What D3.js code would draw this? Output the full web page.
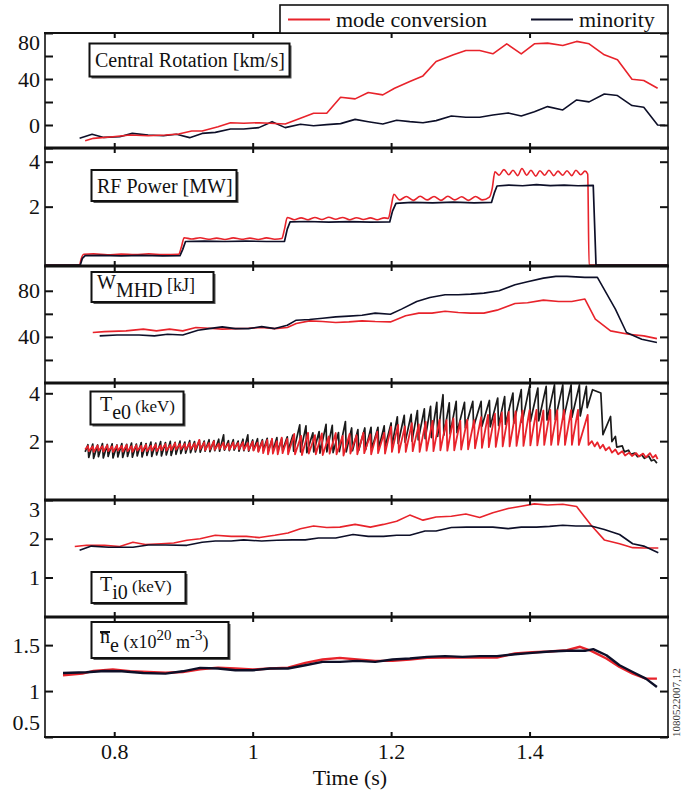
<!DOCTYPE html>
<html>
<head>
<meta charset="utf-8">
<script src="https://cdn.jsdelivr.net/npm/d3@7"></script>
<style>
  body { margin: 0; background: #fff; }
  svg { display: block; font-family: "Liberation Serif", "Times New Roman", serif; }
</style>
</head>
<body>
<svg id="chart" width="682" height="791"></svg>
<script>
// ---- data: [time (s), value] ----
const rotationMC = [[0.758,-13.7],[0.770,-11.6],[0.798,-10.2],[0.823,-8.7],[0.849,-9.3],[0.874,-8.7],[0.893,-7.8],[0.912,-5.2],[0.927,-5.2],[0.950,-1.5],[0.968,2.0],[0.987,1.5],[1.009,2.0],[1.025,1.5],[1.047,0.9],[1.069,5.8],[1.088,10.2],[1.107,10.2],[1.127,24.1],[1.148,22.7],[1.167,28.2],[1.188,26.2],[1.205,32.0],[1.227,37.8],[1.246,42.7],[1.265,55.2],[1.290,61.0],[1.308,64.8],[1.328,64.8],[1.347,61.9],[1.367,70.6],[1.388,61.9],[1.407,70.6],[1.426,71.2],[1.448,69.2],[1.468,72.7],[1.486,70.6],[1.508,61.0],[1.527,56.7],[1.548,39.8],[1.565,38.7],[1.585,32.0]];
const rotationMin = [[0.750,-11.6],[0.768,-8.1],[0.785,-10.8],[0.808,-10.2],[0.826,-7.3],[0.849,-8.7],[0.871,-9.3],[0.890,-8.1],[0.909,-11.0],[0.927,-7.3],[0.946,-6.4],[0.968,-3.5],[0.987,-3.5],[1.009,-2.3],[1.028,2.9],[1.047,-2.3],[1.069,0.6],[1.088,-0.6],[1.107,0.3],[1.127,1.2],[1.148,4.9],[1.167,2.9],[1.188,0.9],[1.208,4.1],[1.227,2.9],[1.246,2.0],[1.265,3.8],[1.287,7.8],[1.308,6.7],[1.328,6.7],[1.347,8.7],[1.369,10.5],[1.388,7.8],[1.407,11.6],[1.426,16.0],[1.448,13.1],[1.468,21.8],[1.486,20.1],[1.508,27.0],[1.527,25.6],[1.548,16.9],[1.565,15.4],[1.585,0.0],[1.596,-0.3]];

const powerMC = [[0.700,-0.6],[0.750,-0.6],[0.752,-0.35],[0.756,-0.12],[0.770,-0.10],[0.790,-0.14],[0.810,-0.11],[0.830,-0.13],[0.850,-0.10],[0.870,-0.13],[0.893,-0.12],[0.897,0.2],[0.901,0.62],[0.912,0.56],[0.924,0.62],[0.936,0.55],[0.948,0.60],[0.960,0.54],[0.972,0.61],[0.984,0.55],[0.996,0.60],[1.008,0.54],[1.020,0.61],[1.032,0.55],[1.042,0.58],[1.046,1.0],[1.050,1.52],[1.060,1.42],[1.070,1.50],[1.080,1.42],[1.090,1.52],[1.100,1.43],[1.110,1.53],[1.120,1.44],[1.130,1.52],[1.140,1.42],[1.150,1.51],[1.160,1.43],[1.170,1.50],[1.180,1.42],[1.190,1.50],[1.196,1.48],[1.200,2.0],[1.204,2.55],[1.212,2.30],[1.222,2.45],[1.232,2.28],[1.242,2.46],[1.252,2.30],[1.262,2.45],[1.272,2.28],[1.282,2.46],[1.292,2.30],[1.302,2.44],[1.312,2.28],[1.322,2.45],[1.332,2.30],[1.342,2.42],[1.346,2.8],[1.350,3.55],[1.356,3.40],[1.363,3.65],[1.370,3.42],[1.376,3.62],[1.383,3.38],[1.389,3.70],[1.396,3.40],[1.402,3.62],[1.409,3.36],[1.415,3.60],[1.422,3.40],[1.428,3.62],[1.435,3.38],[1.441,3.58],[1.448,3.40],[1.454,3.60],[1.461,3.38],[1.467,3.62],[1.474,3.42],[1.480,3.58],[1.484,3.45],[1.486,-0.6],[1.600,-0.6]];
const powerMin = [[0.700,-0.6],[0.751,-0.6],[0.754,-0.3],[0.758,-0.18],[0.780,-0.17],[0.810,-0.19],[0.840,-0.17],[0.870,-0.19],[0.895,-0.18],[0.899,0.1],[0.903,0.45],[0.930,0.47],[0.960,0.45],[0.990,0.47],[1.020,0.45],[1.046,0.46],[1.050,1.0],[1.054,1.32],[1.080,1.34],[1.110,1.31],[1.140,1.33],[1.170,1.31],[1.198,1.32],[1.202,1.8],[1.207,2.15],[1.230,2.19],[1.260,2.17],[1.290,2.20],[1.320,2.17],[1.345,2.19],[1.349,2.6],[1.353,2.92],[1.370,2.96],[1.390,2.93],[1.410,2.98],[1.430,2.94],[1.450,2.96],[1.470,2.93],[1.492,2.95],[1.496,-0.6],[1.600,-0.6]];

const wmhdMC = [[0.769,43.8],[0.786,44.6],[0.817,45.2],[0.842,46.7],[0.861,45.2],[0.880,46.7],[0.899,45.2],[0.918,48.1],[0.937,47.5],[0.956,46.7],[0.975,47.2],[0.994,47.5],[1.013,48.1],[1.032,47.2],[1.050,48.1],[1.063,51.6],[1.082,53.9],[1.101,53.3],[1.120,52.5],[1.139,53.0],[1.158,53.9],[1.177,53.3],[1.199,53.0],[1.221,58.3],[1.240,60.6],[1.259,60.6],[1.278,62.3],[1.297,61.2],[1.315,60.6],[1.334,60.6],[1.353,63.2],[1.379,69.0],[1.397,69.6],[1.420,71.9],[1.442,70.7],[1.461,70.7],[1.480,72.8],[1.495,55.4],[1.517,45.2],[1.543,42.3],[1.565,40.9],[1.584,38.5]];
const wmhdMin = [[0.779,40.9],[0.804,41.7],[0.836,41.7],[0.858,40.9],[0.877,42.3],[0.899,41.7],[0.921,45.8],[0.937,47.2],[0.956,48.7],[0.975,47.2],[0.994,47.2],[1.013,48.9],[1.032,47.2],[1.050,50.1],[1.063,54.5],[1.082,55.1],[1.101,56.2],[1.120,57.4],[1.139,58.0],[1.158,58.8],[1.177,60.6],[1.199,59.7],[1.215,64.1],[1.237,70.7],[1.256,74.2],[1.278,76.5],[1.297,76.5],[1.315,77.1],[1.334,78.0],[1.356,80.0],[1.379,85.2],[1.397,87.8],[1.420,91.0],[1.438,92.5],[1.454,92.5],[1.480,91.6],[1.498,91.6],[1.524,64.1],[1.540,43.8],[1.562,38.0],[1.584,35.1]];

// Te0 sawteeth: [crash time, peak before crash, value just after crash]
const te0StartMC = [0.758, 1.65];
const te0TeethMC = [[0.762,1.80,1.58],[0.769,1.78,1.55],[0.776,1.82,1.60],[0.783,1.79,1.56],[0.790,1.83,1.58],[0.797,1.78,1.55],[0.804,1.82,1.60],[0.811,1.80,1.56],[0.818,1.84,1.58],[0.825,1.79,1.55],[0.832,1.83,1.60],[0.839,1.80,1.57],[0.846,1.85,1.58],[0.853,1.81,1.60],[0.860,1.86,1.58],[0.867,1.82,1.62],[0.874,1.88,1.60],[0.881,1.84,1.62],[0.888,1.92,1.64],[0.895,1.88,1.66],[0.902,1.88,1.64],[0.909,1.92,1.66],[0.916,1.90,1.64],[0.923,2.05,1.66],[0.930,1.95,1.62],[0.937,1.92,1.65],[0.944,2.00,1.64],[0.951,1.90,1.68],[0.958,1.94,1.66],[0.965,1.90,1.64],[0.972,1.95,1.68],[0.979,1.92,1.66],[0.986,1.96,1.64],[0.993,1.92,1.62],[1.000,1.98,1.60],[1.007,1.94,1.55],[1.014,2.00,1.50],[1.021,2.05,1.45],[1.028,2.10,1.48],[1.035,2.00,1.45],[1.042,2.15,1.50],[1.050,2.10,1.45],[1.060,2.30,1.45],[1.070,2.22,1.42],[1.080,2.35,1.48],[1.090,2.25,1.45],[1.100,2.32,1.42],[1.110,2.20,1.48],[1.120,2.34,1.45],[1.130,2.22,1.40],[1.140,2.30,1.48],[1.150,2.25,1.45],[1.160,2.35,1.50],[1.170,2.28,1.45],[1.180,2.40,1.50],[1.190,2.35,1.48],[1.200,2.60,1.55],[1.210,2.68,1.52],[1.220,2.62,1.55],[1.230,2.75,1.58],[1.240,2.70,1.55],[1.250,2.80,1.60],[1.260,2.85,1.58],[1.270,2.90,1.62],[1.280,2.88,1.60],[1.290,2.95,1.62],[1.300,2.85,1.65],[1.310,2.90,1.66],[1.320,2.88,1.70],[1.330,3.00,1.72],[1.340,3.10,1.75],[1.350,3.15,1.76],[1.360,3.20,1.78],[1.370,3.22,1.78],[1.380,3.24,1.80],[1.390,3.28,1.80],[1.400,3.30,1.82],[1.410,3.31,1.82],[1.420,3.28,1.84],[1.430,3.31,1.84],[1.440,3.30,1.85],[1.450,3.31,1.84],[1.460,3.30,1.85],[1.470,3.31,1.84],[1.484,3.10,1.84]];
const te0TailMC = [[1.490,2.00],[1.494,1.78],[1.498,1.95],[1.502,1.70],[1.506,1.85],[1.510,1.62],[1.515,1.75],[1.519,1.52],[1.524,1.65],[1.528,1.45],[1.534,1.58],[1.538,1.40],[1.544,1.52],[1.548,1.38],[1.554,1.50],[1.558,1.36],[1.564,1.48],[1.568,1.32],[1.574,1.50],[1.578,1.30],[1.582,1.42],[1.585,1.25]];
const te0StartMin = [0.758, 1.55];
const te0TeethMin = [[0.762,1.85,1.32],[0.769,1.88,1.28],[0.776,1.84,1.35],[0.783,1.90,1.30],[0.790,1.86,1.36],[0.797,1.89,1.30],[0.804,1.84,1.34],[0.811,1.90,1.32],[0.818,1.87,1.36],[0.825,1.92,1.33],[0.832,1.88,1.38],[0.839,1.94,1.34],[0.846,1.90,1.40],[0.853,1.96,1.36],[0.860,1.92,1.42],[0.867,1.98,1.38],[0.874,1.94,1.42],[0.881,1.99,1.40],[0.888,1.95,1.45],[0.895,2.00,1.48],[0.902,1.96,1.50],[0.909,2.02,1.52],[0.916,1.98,1.55],[0.923,2.04,1.54],[0.930,2.00,1.58],[0.937,2.06,1.56],[0.944,2.02,1.60],[0.951,2.08,1.58],[0.958,2.26,1.62],[0.965,2.02,1.60],[0.972,2.06,1.62],[0.979,2.00,1.58],[0.986,2.08,1.60],[0.993,2.26,1.58],[1.000,2.05,1.62],[1.007,2.10,1.58],[1.014,2.06,1.60],[1.021,2.12,1.56],[1.028,2.08,1.60],[1.035,2.15,1.58],[1.042,2.10,1.62],[1.050,2.18,1.60],[1.058,2.25,1.58],[1.068,2.68,1.55],[1.077,2.64,1.52],[1.087,2.35,1.55],[1.096,2.40,1.50],[1.106,2.70,1.55],[1.115,2.66,1.52],[1.124,2.36,1.56],[1.134,2.82,1.55],[1.143,2.55,1.60],[1.152,2.48,1.62],[1.162,2.55,1.65],[1.171,2.58,1.68],[1.181,2.58,1.70],[1.190,2.64,1.75],[1.200,2.76,1.80],[1.209,3.02,1.90],[1.219,3.08,1.95],[1.229,3.12,2.00],[1.238,3.28,2.05],[1.248,3.35,2.10],[1.257,3.45,2.15],[1.266,3.62,2.20],[1.275,3.94,2.25],[1.284,3.60,2.30],[1.294,3.66,2.35],[1.306,3.62,2.55],[1.318,3.66,2.60],[1.330,3.66,2.62],[1.342,3.70,2.60],[1.354,3.80,2.65],[1.364,3.86,2.70],[1.376,4.01,2.75],[1.388,4.15,2.78],[1.400,4.29,2.82],[1.412,4.22,2.85],[1.424,4.29,2.88],[1.436,4.35,2.90],[1.448,4.35,2.95],[1.460,4.35,3.00],[1.472,4.35,3.05],[1.482,4.29,3.40]];
const te0TailMin = [[1.491,4.15],[1.503,4.01],[1.506,2.27],[1.517,3.03],[1.519,1.98],[1.524,2.20],[1.526,1.75],[1.534,1.80],[1.537,1.55],[1.543,1.62],[1.546,1.45],[1.552,1.50],[1.556,1.35],[1.562,1.42],[1.566,1.28],[1.572,1.38],[1.576,1.18],[1.580,1.22],[1.584,1.08]];

const ti0MC = [[0.743,1.80],[0.760,1.83],[0.786,1.83],[0.808,1.80],[0.827,1.91],[0.845,1.85],[0.868,1.87],[0.886,1.89],[0.905,1.96],[0.924,2.00],[0.946,2.09],[0.969,2.06],[0.991,2.06],[1.010,2.03],[1.032,2.09],[1.051,2.15],[1.069,2.26],[1.088,2.33],[1.107,2.29],[1.126,2.30],[1.148,2.37],[1.170,2.30],[1.189,2.37],[1.208,2.45],[1.227,2.61],[1.246,2.48],[1.265,2.56],[1.287,2.58],[1.308,2.64],[1.328,2.55],[1.347,2.67],[1.369,2.78],[1.388,2.84],[1.407,2.90],[1.426,2.87],[1.448,2.89],[1.468,2.83],[1.489,2.35],[1.508,1.97],[1.530,1.87],[1.549,1.77],[1.565,1.76],[1.586,1.76]];
const ti0Min = [[0.750,1.70],[0.767,1.81],[0.792,1.78],[0.827,1.78],[0.849,1.84],[0.874,1.84],[0.905,1.83],[0.927,1.91],[0.946,1.94],[0.969,1.94],[0.987,1.97],[1.013,1.94],[1.035,1.96],[1.057,1.97],[1.076,1.97],[1.095,2.02],[1.120,2.02],[1.145,2.11],[1.167,2.06],[1.189,2.06],[1.208,2.09],[1.227,2.09],[1.249,2.20],[1.265,2.20],[1.287,2.29],[1.309,2.30],[1.328,2.30],[1.347,2.30],[1.369,2.26],[1.388,2.30],[1.410,2.30],[1.429,2.32],[1.448,2.35],[1.467,2.33],[1.489,2.33],[1.508,2.24],[1.530,2.11],[1.549,1.87],[1.565,1.81],[1.586,1.64]];

const neMC = [[0.726,1.172],[0.754,1.190],[0.770,1.219],[0.798,1.234],[0.823,1.215],[0.849,1.208],[0.874,1.200],[0.899,1.208],[0.924,1.237],[0.950,1.255],[0.975,1.245],[1.000,1.234],[1.025,1.245],[1.051,1.255],[1.076,1.307],[1.101,1.343],[1.126,1.361],[1.151,1.343],[1.177,1.328],[1.202,1.328],[1.227,1.343],[1.252,1.361],[1.278,1.365],[1.303,1.365],[1.328,1.365],[1.353,1.365],[1.379,1.409],[1.404,1.423],[1.429,1.431],[1.454,1.445],[1.473,1.482],[1.489,1.438],[1.511,1.354],[1.530,1.263],[1.549,1.190],[1.568,1.135],[1.584,1.135]];
const neMin = [[0.726,1.197],[0.760,1.204],[0.786,1.219],[0.811,1.215],[0.842,1.197],[0.874,1.190],[0.899,1.215],[0.924,1.252],[0.950,1.245],[0.975,1.226],[1.000,1.226],[1.025,1.245],[1.051,1.245],[1.076,1.281],[1.101,1.318],[1.126,1.318],[1.151,1.328],[1.177,1.318],[1.202,1.343],[1.227,1.354],[1.252,1.372],[1.278,1.380],[1.303,1.372],[1.328,1.380],[1.353,1.380],[1.379,1.401],[1.404,1.416],[1.429,1.431],[1.454,1.438],[1.480,1.438],[1.492,1.456],[1.511,1.390],[1.530,1.281],[1.549,1.208],[1.568,1.135],[1.584,1.044]];

const timeTicks = [0.8, 1.0, 1.2, 1.4];
const seriesNames = ['mode conversion', 'minority'];

// ---- layout ----
const RED = '#e8232b', NAVY = '#0d0f28';
const L = 45, R = 668;
const svg = d3.select('#chart');
const x = d3.scaleLinear().domain([0.70, 1.60]).range([L, R]);

// build sawtooth polyline from tooth records
const teeth = (start, list, tail) => {
    const pts = [start];
    list.forEach(([t, pk, lo]) => { pts.push([t, pk]); pts.push([t + 0.0012, lo]); });
    return pts.concat(tail);
};

const panels = [
    {top: 33, bottom: 148, domain: [-20, 80], ticks: [-20, 0, 20, 40, 60, 80], labels: [0, 40, 80],
     lines: [[rotationMin, NAVY, 1.6], [rotationMC, RED, 1.6]]},
    {top: 148, bottom: 266, domain: [-0.64, 4.61], ticks: [2, 4], labels: [2, 4],
     lines: [[powerMC, RED, 1.6, d3.curveMonotoneX], [powerMin, NAVY, 1.7]]},
    {top: 266, bottom: 383, domain: [0, 101.5], ticks: [20, 40, 60, 80], labels: [40, 80],
     lines: [[wmhdMC, RED, 1.6], [wmhdMin, NAVY, 1.6]]},
    {top: 383, bottom: 500, domain: [-0.46, 4.43], ticks: [2, 4], labels: [2, 4],
     lines: [[teeth(te0StartMin, te0TeethMin, te0TailMin), '#1a1a1a', 1.7], [teeth(te0StartMC, te0TeethMC, te0TailMC), RED, 1.8]]},
    {top: 500, bottom: 617, domain: [-0.02, 3], ticks: [1, 2, 3], labels: [1, 2, 3],
     lines: [[ti0MC, RED, 1.6], [ti0Min, NAVY, 1.6]]},
    {top: 617, bottom: 737, domain: [0.5, 1.806], ticks: [0.5, 1, 1.5], labels: [0.5, 1, 1.5],
     lines: [[neMC, RED, 2.4], [neMin, NAVY, 2.4]]}
];

panels.forEach((p, i) => {
    const y = d3.scaleLinear().domain(p.domain).range([p.bottom, p.top]);
    const g = svg.append('g');
    const clipId = 'clip' + i;
    svg.append('clipPath').attr('id', clipId)
        .append('rect').attr('x', L).attr('y', p.top).attr('width', R - L).attr('height', p.bottom - p.top);

    const lg = g.append('g').attr('clip-path', `url(#${clipId})`);
    p.lines.forEach(([data, color, w, curve]) => {
        const line = d3.line().x(d => x(d[0])).y(d => y(d[1])).curve(curve || d3.curveLinear);
        lg.append('path').datum(data)
            .attr('d', line)
            .attr('fill', 'none')
            .attr('stroke', color)
            .attr('stroke-width', w)
            .attr('stroke-linejoin', 'round');
    });

    // y axes, ticks pointing inward on both sides
    const left = g.append('g').attr('transform', `translate(${L},0)`)
        .call(d3.axisLeft(y).tickValues(p.ticks).tickSize(-8).tickPadding(5)
            .tickFormat(v => p.labels.includes(v) ? String(v) : ''));
    left.selectAll('text')
        .attr('font-size', 22).attr('font-family', 'Liberation Serif, serif').attr('fill', '#111')
        .attr('dy', v => v === p.domain[1] ? '0.75em' : (v === p.domain[0] ? '-0.35em' : '0.32em'));
    g.append('g').attr('transform', `translate(${R},0)`)
        .call(d3.axisRight(y).tickValues(p.ticks).tickSize(-8).tickFormat(''));

    // time ticks on top and bottom edge of every panel
    g.append('g').attr('transform', `translate(0,${p.top})`)
        .call(d3.axisBottom(x).tickValues(timeTicks).tickSize(5).tickFormat(''));
    g.append('g').attr('transform', `translate(0,${p.bottom})`)
        .call(d3.axisTop(x).tickValues(timeTicks).tickSize(5).tickFormat(''));

    g.selectAll('.domain').remove();
    g.selectAll('.tick line').attr('stroke', '#111').attr('stroke-width', 2);
});

// frame: thin sides, heavy dividers
svg.append('line').attr('x1', L).attr('x2', L).attr('y1', 32).attr('y2', 738)
    .attr('stroke', '#111').attr('stroke-width', 1.6);
svg.append('line').attr('x1', R).attr('x2', R).attr('y1', 32).attr('y2', 738)
    .attr('stroke', '#111').attr('stroke-width', 1.6);
const edges = [33].concat(panels.map(p => p.bottom));
svg.selectAll('line.divider').data(edges).enter().append('line')
    .attr('class', 'divider')
    .attr('x1', L - 1).attr('x2', R + 1)
    .attr('y1', d => d).attr('y2', d => d)
    .attr('stroke', '#111').attr('stroke-width', (d, i) => (i === 0 || i === edges.length - 1) ? 2 : 3);

// time axis labels
const bottomAxis = svg.append('g').attr('transform', `translate(0,737)`)
    .call(d3.axisBottom(x).tickValues(timeTicks).tickSize(0).tickPadding(6.5)
        .tickFormat(d3.format('~g')));
bottomAxis.select('.domain').remove();
bottomAxis.selectAll('text').attr('font-size', 22).attr('font-family', 'Liberation Serif, serif').attr('fill', '#111');

svg.append('text').attr('x', 350).attr('y', 785).attr('text-anchor', 'middle')
    .attr('font-size', 22).attr('fill', '#111').text('Time (s)');

// shot number on the right
svg.append('text').attr('transform', 'translate(680,737) rotate(-90)')
    .attr('font-size', 11).attr('fill', '#333').text('1080522007,12');

// legend
svg.append('rect').attr('x', 280).attr('y', 5).attr('width', R - 280).attr('height', 28)
    .attr('fill', '#fff').attr('stroke', '#111').attr('stroke-width', 1.6);
const legendItems = [[seriesNames[0], RED, 288], [seriesNames[1], NAVY, 531]];
legendItems.forEach(([name, color, lx]) => {
    svg.append('line').attr('x1', lx).attr('x2', lx + 42).attr('y1', 19.5).attr('y2', 19.5)
        .attr('stroke', color).attr('stroke-width', 1.8);
    svg.append('text').attr('x', lx + 48).attr('y', 27).attr('font-size', 22).attr('fill', '#111').text(name);
});

// panel label boxes
const labelBox = (x0, y0, w, h) => {
    svg.append('rect').attr('x', x0 + 2).attr('y', y0 + 2).attr('width', w).attr('height', h)
        .attr('fill', '#555');
    svg.append('rect').attr('x', x0).attr('y', y0).attr('width', w).attr('height', h)
        .attr('fill', '#fff').attr('stroke', '#111').attr('stroke-width', 2);
    return svg.append('text').attr('fill', '#111').attr('font-size', 20);
};

labelBox(89.5, 43.5, 200, 33).attr('x', 95).attr('y', 67).text('Central Rotation [km/s]');
labelBox(91.5, 170, 145, 31).attr('x', 97).attr('y', 193).text('RF Power [MW]');

let t = labelBox(91.5, 272, 122, 30).attr('x', 97);
t.append('tspan').attr('y', 289).text('W');
t.append('tspan').attr('y', 297).text('MHD');
t.append('tspan').attr('y', 291).attr('font-size', 18).text(' [kJ]');

t = labelBox(90.5, 391.5, 93, 33).attr('x', 100);
t.append('tspan').attr('y', 411).text('T');
t.append('tspan').attr('y', 419).text('e0');
t.append('tspan').attr('y', 412).attr('font-size', 17).text(' (keV)');

t = labelBox(91.5, 572, 94, 31).attr('x', 100);
t.append('tspan').attr('y', 591).text('T');
t.append('tspan').attr('y', 599).text('i0');
t.append('tspan').attr('y', 592).attr('font-size', 17).text(' (keV)');

t = labelBox(91.5, 622, 137, 36).attr('x', 100);
t.append('tspan').attr('y', 643).text('n');
t.append('tspan').attr('y', 652).text('e');
t.append('tspan').attr('y', 648).attr('font-size', 18).text(' (x10');
t.append('tspan').attr('y', 640).attr('font-size', 15).text('20');
t.append('tspan').attr('y', 648).attr('font-size', 18).text(' m');
t.append('tspan').attr('y', 640).attr('font-size', 15).text('-3');
t.append('tspan').attr('y', 648).attr('font-size', 18).text(')');
const nBox = t.node().getExtentOfChar(0);
svg.append('line').attr('x1', nBox.x).attr('x2', nBox.x + nBox.width)
    .attr('y1', 632).attr('y2', 632).attr('stroke', '#111').attr('stroke-width', 2);
</script>
</body>
</html>
